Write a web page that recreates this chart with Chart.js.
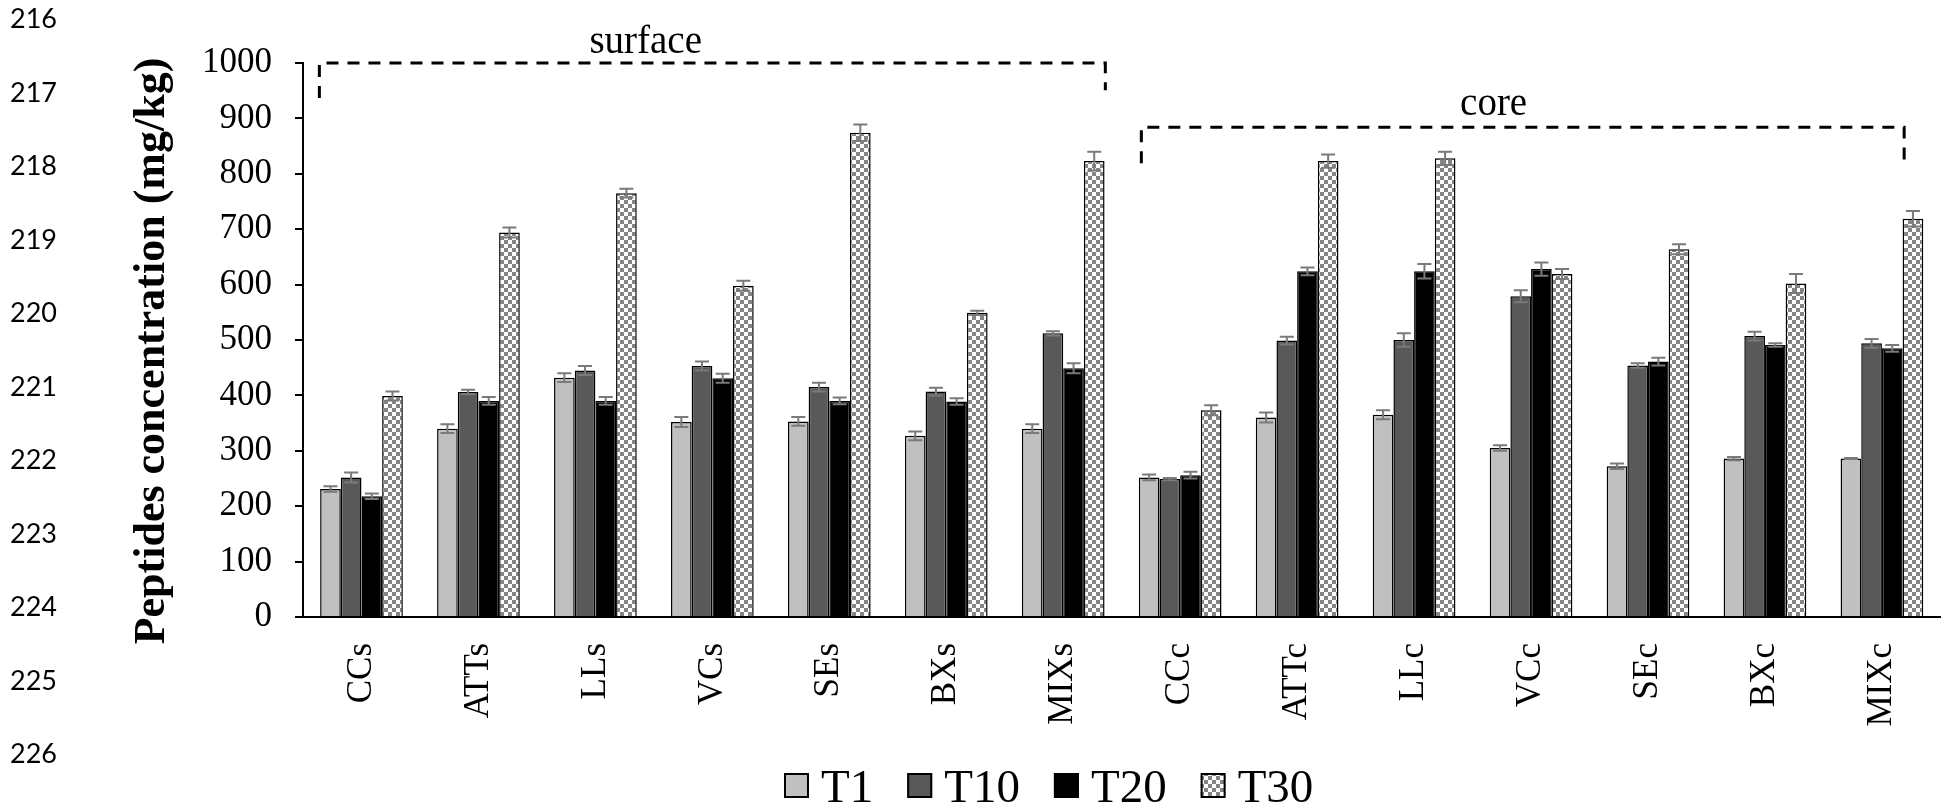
<!DOCTYPE html>
<html>
<head>
<meta charset="utf-8">
<script src="https://cdn.jsdelivr.net/npm/chart.js@4.4.1/dist/chart.umd.min.js"></script>
<style>
  html, body { margin: 0; padding: 0; background: #fff; }
  #wrap { position: relative; width: 1950px; height: 808px; overflow: hidden; }
  #chart { position: absolute; left: 0; top: 0; }
  .ln { position: absolute; left: 10px; font: 27px Lato, sans-serif; line-height: 30px; color: #000; }
</style>
</head>
<body>
<div id="wrap">
  <canvas id="chart" width="1950" height="808"></canvas>
</div>
<script>
// manuscript line numbers down the left margin
const lineNumbers = [216, 217, 218, 219, 220, 221, 222, 223, 224, 225, 226];

const categories = ['CCs', 'ATTs', 'LLs', 'VCs', 'SEs', 'BXs', 'MIXs', 'CCc', 'ATTc', 'LLc', 'VCc', 'SEc', 'BXc', 'MIXc'];
const seriesNames = ['T1', 'T10', 'T20', 'T30'];

// peptides concentration (mg/kg)
const t1  = [231, 340, 432, 352, 353, 327, 340, 252, 360, 365, 305, 272, 286, 286];
const t10 = [252, 406, 445, 453, 415, 407, 512, 249, 499, 500, 579, 454, 507, 494];
const t20 = [218, 390, 390, 431, 390, 389, 449, 256, 624, 624, 628, 461, 491, 485];
const t30 = [399, 694, 765, 598, 874, 549, 823, 373, 823, 828, 619, 664, 602, 719];

// error bar half-lengths
const t1Err  = [5, 8, 8, 9, 8, 8, 8, 5, 9, 8, 5, 5, 3, 1];
const t10Err = [9, 4, 8, 8, 8, 7, 4, 2, 7, 12, 11, 4, 8, 8];
const t20Err = [5, 7, 7, 8, 6, 6, 9, 6, 7, 13, 12, 7, 3, 6];
const t30Err = [8, 9, 8, 9, 15, 4, 17, 9, 12, 12, 9, 9, 17, 14];

const serif = "'Liberation Serif', 'Times New Roman', serif";

const wrap = document.getElementById('wrap');
lineNumbers.forEach((n, i) => {
    const d = document.createElement('div');
    d.className = 'ln';
    d.style.top = (18 + 73.5 * i - 15) + 'px';
    d.textContent = n;
    wrap.appendChild(d);
});

const canvas = document.getElementById('chart');
const ctx = canvas.getContext('2d');

// grey/white check fill for T30
const tile = document.createElement('canvas');
tile.width = 8; tile.height = 8;
const tg = tile.getContext('2d');
tg.fillStyle = '#ffffff'; tg.fillRect(0, 0, 8, 8);
tg.fillStyle = '#858585'; tg.fillRect(0, 0, 4, 4); tg.fillRect(4, 4, 4, 4);
const checks = ctx.createPattern(tile, 'repeat');

const errorBars = {
    id: 'errorBars',
    afterDatasetsDraw(chart) {
        const c = chart.ctx, y = chart.scales.y;
        c.save();
        c.strokeStyle = '#7a7a7a';
        c.lineWidth = 2;
        chart.data.datasets.forEach((ds, i) => {
            chart.getDatasetMeta(i).data.forEach((bar, j) => {
                const top = y.getPixelForValue(ds.data[j] + ds.errors[j]);
                const bot = y.getPixelForValue(ds.data[j] - ds.errors[j]);
                c.beginPath();
                c.moveTo(bar.x, top); c.lineTo(bar.x, bot);
                c.moveTo(bar.x - 7, top); c.lineTo(bar.x + 7, top);
                c.moveTo(bar.x - 7, bot); c.lineTo(bar.x + 7, bot);
                c.stroke();
            });
        });
        c.restore();
    }
};

// dashed brackets over the surface / core groups
const groups = [
    { text: 'surface', from: -0.36, to: 6.36, level: 1000, leftDrop: 937, rightDrop: 951, textAt: 2.43, textBase: 1018 },
    { text: 'core', from: 6.668, to: 13.19, level: 884, leftDrop: 819, rightDrop: 825, textAt: 9.68, textBase: 906 }
];

const annotations = {
    id: 'annotations',
    afterDraw(chart) {
        const c = chart.ctx, x = chart.scales.x, y = chart.scales.y;
        const step = x.getPixelForValue(1) - x.getPixelForValue(0);
        const px = v => x.getPixelForValue(0) + v * step;
        c.save();
        c.strokeStyle = '#000';
        c.lineWidth = 3;
        c.setLineDash([12, 9]);
        groups.forEach(g => {
            c.beginPath();
            c.moveTo(px(g.from), y.getPixelForValue(g.leftDrop));
            c.lineTo(px(g.from), y.getPixelForValue(g.level));
            c.lineTo(px(g.to), y.getPixelForValue(g.level));
            c.lineTo(px(g.to), y.getPixelForValue(g.rightDrop));
            c.stroke();
        });
        c.setLineDash([]);
        c.fillStyle = '#000';
        c.font = `39px ${serif}`;
        c.textAlign = 'center';
        c.textBaseline = 'alphabetic';
        groups.forEach(g => c.fillText(g.text, px(g.textAt), y.getPixelForValue(g.textBase)));

        // y axis title
        c.save();
        c.translate(164, 351);
        c.rotate(-Math.PI / 2);
        c.font = `bold 44px ${serif}`;
        c.fillText('Peptides concentration (mg/kg)', 0, 0);
        c.restore();

        // legend
        c.font = `47px ${serif}`;
        c.textAlign = 'left';
        let lx = 784;
        const s = 25, top = 773;
        chart.data.datasets.forEach(ds => {
            c.fillStyle = ds.backgroundColor;
            c.fillRect(lx, top, s, s);
            c.strokeStyle = '#000';
            c.lineWidth = 2;
            c.strokeRect(lx + 1, top + 1, s - 2, s - 2);
            c.fillStyle = '#000';
            c.fillText(ds.label, lx + s + 12, 802);
            lx += s + 12 + c.measureText(ds.label).width + 34;
        });
        c.restore();
    }
};

new Chart(canvas, {
    type: 'bar',
    data: {
        labels: categories,
        datasets: [
            { label: seriesNames[0], data: t1, errors: t1Err, backgroundColor: '#c0c0c0' },
            { label: seriesNames[1], data: t10, errors: t10Err, backgroundColor: '#595959' },
            { label: seriesNames[2], data: t20, errors: t20Err, backgroundColor: '#000000' },
            { label: seriesNames[3], data: t30, errors: t30Err, backgroundColor: checks }
        ]
    },
    options: {
        responsive: false,
        animation: false,
        devicePixelRatio: 1,
        layout: { padding: { left: 0, right: 2, top: 63, bottom: 71 } },
        datasets: {
            bar: { borderColor: '#000', borderWidth: 1.5, categoryPercentage: 0.707, barPercentage: 1 }
        },
        plugins: { legend: { display: false }, tooltip: { enabled: false } },
        scales: {
            x: {
                grid: { display: false, drawTicks: false },
                border: { display: true, color: '#000', width: 2 },
                ticks: { minRotation: 90, maxRotation: 90, padding: 26, color: '#000', font: { family: serif, size: 35 } },
                afterFit: s => { s.height = 120; }
            },
            y: {
                min: 0,
                max: 1000,
                ticks: { stepSize: 100, padding: 23, color: '#000', font: { family: serif, size: 35 }, callback: v => String(v) },
                grid: { drawOnChartArea: false, drawTicks: true, tickLength: 8, color: '#000', lineWidth: 2 },
                border: { color: '#000', width: 2 },
                afterFit: s => { s.width = 303; }
            }
        }
    },
    plugins: [errorBars, annotations]
});
</script>
</body>
</html>
